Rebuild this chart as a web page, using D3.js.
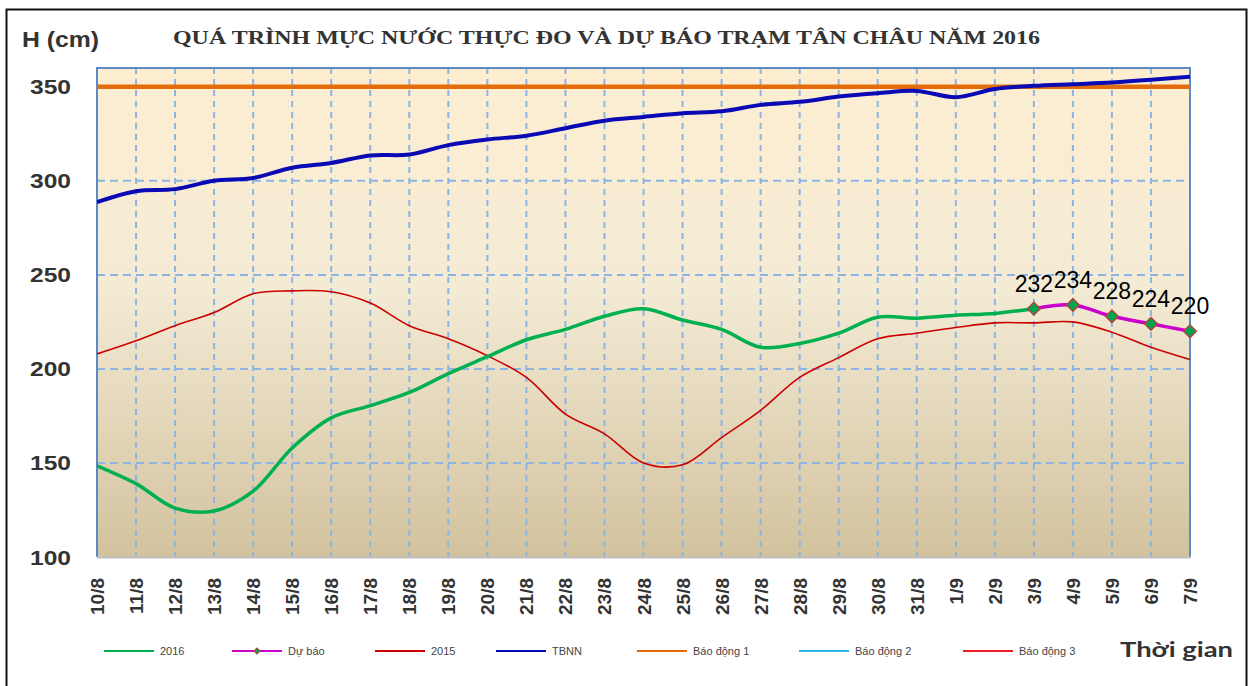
<!DOCTYPE html>
<html>
<head>
<meta charset="utf-8">
<script src="https://cdn.jsdelivr.net/npm/d3@7"></script>
<style>
    body { margin: 0; background: #fff; }
    svg { display: block; }
</style>
</head>
<body>
<svg id="chart" width="1253" height="686"></svg>
<script>
// ---------------------------
// DATA
// ---------------------------
const dates = ["10/8","11/8","12/8","13/8","14/8","15/8","16/8","17/8","18/8","19/8","20/8",
    "21/8","22/8","23/8","24/8","25/8","26/8","27/8","28/8","29/8","30/8","31/8",
    "1/9","2/9","3/9","4/9","5/9","6/9","7/9"];

// measured 2016 (10/8 -> 3/9)
const h2016 = [148.5,139,126,124.5,135,158,174,180.5,187.5,197.5,206.5,215.5,221,228,232,
    226,221,211.5,213.5,219,227.5,227,228.5,229.5,232];

// forecast (3/9 -> 7/9)
const forecastDates = ["3/9","4/9","5/9","6/9","7/9"];
const forecast = [232,234,228,224,220];

const h2015 = [208,215,223,230,240,241.5,241,235,223,216,207,195.5,176,165.5,150,149,163.5,
    178,195.5,206,216,219,222,224.5,224.5,225,219.5,211.5,205];

const tbnn = [288.7,294.5,295.6,300,301.5,307,309.5,313.5,314,319,322,324,328,332,334,336,337,
    340.4,342,344.8,346.6,347.8,344.5,348.8,350.5,351.4,352.3,353.7,355.4];

const alarms = [350, 400, 450];
const yTicks = [100,150,200,250,300,350];

// ---------------------------
// LAYOUT
// ---------------------------
const plotLeft = 97, plotRight = 1190, plotTop = 68, plotBottom = 557;
const colors = {
    h2016: "#00b050", forecast: "#cc00cc", h2015: "#cc0000", tbnn: "#0a0ab4",
    alarm1: "#e46c0a", alarm2: "#2fb5ea", alarm3: "#ee1c25"
};
const alarmColors = [colors.alarm1, colors.alarm2, colors.alarm3];

const svg = d3.select("#chart");

const xScale = d3.scalePoint().domain(dates).range([plotLeft, plotRight]);
const yScale = d3.scaleLinear().domain([100, 360]).range([plotBottom, plotTop]);

// outer frame
svg.append("rect")
    .attr("x", 6.5).attr("y", 9.5)
    .attr("width", 1240).attr("height", 700)
    .attr("fill", "none")
    .attr("stroke", "#111")
    .attr("stroke-width", 2);

// background gradient
const defs = svg.append("defs");
const grad = defs.append("linearGradient")
    .attr("id", "bg").attr("x1", 0).attr("y1", 0).attr("x2", 0).attr("y2", 1);
grad.append("stop").attr("offset", "0%").attr("stop-color", "#fdeed1");
grad.append("stop").attr("offset", "45%").attr("stop-color", "#f4ebd5");
grad.append("stop").attr("offset", "100%").attr("stop-color", "#d2c29e");

defs.append("clipPath").attr("id", "plotClip")
    .append("rect")
    .attr("x", plotLeft).attr("y", plotTop)
    .attr("width", plotRight - plotLeft).attr("height", plotBottom - plotTop);

svg.append("rect")
    .attr("x", plotLeft).attr("y", plotTop)
    .attr("width", plotRight - plotLeft).attr("height", plotBottom - plotTop)
    .attr("fill", "url(#bg)");

// ---------------------------
// GRIDLINES
// ---------------------------
svg.append("g")
    .selectAll("line")
    .data(dates.slice(1, -1))
    .join("line")
    .attr("x1", d => xScale(d)).attr("x2", d => xScale(d))
    .attr("y1", plotTop).attr("y2", plotBottom)
    .attr("stroke", "#8db4e2")
    .attr("stroke-width", 2)
    .attr("stroke-dasharray", "6,5");

svg.append("g")
    .selectAll("line")
    .data(yTicks.slice(1))
    .join("line")
    .attr("x1", plotLeft).attr("x2", plotRight)
    .attr("y1", d => yScale(d)).attr("y2", d => yScale(d))
    .attr("stroke", "#8db4e2")
    .attr("stroke-width", 2)
    .attr("stroke-dasharray", "8,5");

// plot border
svg.append("path")
    .attr("d", `M${plotLeft},${plotBottom}V${plotTop}H${plotRight}V${plotBottom}`)
    .attr("fill", "none")
    .attr("stroke", "#5b8ac6")
    .attr("stroke-width", 2);
svg.append("line")
    .attr("x1", plotLeft).attr("x2", plotRight + 1)
    .attr("y1", plotBottom + 0.5).attr("y2", plotBottom + 0.5)
    .attr("stroke", "#bfbfbf")
    .attr("stroke-width", 2);

// ---------------------------
// SERIES
// ---------------------------
const plot = svg.append("g").attr("clip-path", "url(#plotClip)");

const lineGen = d3.line()
    .x(d => xScale(d.date))
    .y(d => yScale(d.value))
    .curve(d3.curveCatmullRom.alpha(0.5));

const toPoints = (vals, ds) => vals.map((v, i) => ({ date: ds[i], value: v }));

// alarm levels (only the first falls inside the axis range)
plot.selectAll(".alarm")
    .data(alarms)
    .join("line")
    .attr("class", "alarm")
    .attr("x1", plotLeft).attr("x2", plotRight)
    .attr("y1", d => yScale(d)).attr("y2", d => yScale(d))
    .attr("stroke", (d, i) => alarmColors[i])
    .attr("stroke-width", 4.5);

plot.append("path")
    .datum(toPoints(h2015, dates))
    .attr("d", lineGen)
    .attr("fill", "none")
    .attr("stroke", colors.h2015)
    .attr("stroke-width", 1.6);

plot.append("path")
    .datum(toPoints(tbnn, dates))
    .attr("d", lineGen)
    .attr("fill", "none")
    .attr("stroke", colors.tbnn)
    .attr("stroke-width", 4);

plot.append("path")
    .datum(toPoints(h2016, dates))
    .attr("d", lineGen)
    .attr("fill", "none")
    .attr("stroke", colors.h2016)
    .attr("stroke-width", 3.5);

const fcPoints = toPoints(forecast, forecastDates);

svg.append("path")
    .datum(fcPoints)
    .attr("d", lineGen)
    .attr("fill", "none")
    .attr("stroke", colors.forecast)
    .attr("stroke-width", 3.5);

const diamond = d3.symbol().type(d3.symbolSquare).size(80);

svg.append("g")
    .selectAll("path")
    .data(fcPoints)
    .join("path")
    .attr("d", diamond)
    .attr("transform", d => `translate(${xScale(d.date)},${yScale(d.value)}) rotate(45)`)
    .attr("fill", "#00a550")
    .attr("stroke", "#b0463c")
    .attr("stroke-width", 1.5);

svg.append("g")
    .selectAll("text")
    .data(fcPoints)
    .join("text")
    .attr("x", d => xScale(d.date))
    .attr("y", d => yScale(d.value) - 17)
    .attr("text-anchor", "middle")
    .attr("font-family", "Liberation Sans, Arial, sans-serif")
    .attr("font-size", "23px")
    .attr("fill", "#000")
    .text(d => d.value);

// ---------------------------
// AXES TEXT
// ---------------------------
svg.append("g")
    .selectAll("text")
    .data(yTicks)
    .join("text")
    .attr("x", 71)
    .attr("y", d => yScale(d) + 7.5)
    .attr("text-anchor", "end")
    .attr("font-family", "Liberation Sans, Arial, sans-serif")
    .attr("font-weight", "bold")
    .attr("font-size", "20px")
    .attr("fill", "#333")
    .attr("textLength", 41)
    .attr("lengthAdjust", "spacingAndGlyphs")
    .text(d => d);

svg.append("g")
    .selectAll("text")
    .data(dates)
    .join("text")
    .attr("transform", d => `translate(${xScale(d) + 7},578) rotate(-90)`)
    .attr("text-anchor", "end")
    .attr("font-family", "Liberation Sans, Arial, sans-serif")
    .attr("font-weight", "bold")
    .attr("font-size", "19px")
    .attr("fill", "#333")
    .text(d => d);

svg.append("text")
    .attr("x", 22).attr("y", 47)
    .attr("font-family", "Liberation Sans, Arial, sans-serif")
    .attr("font-weight", "bold")
    .attr("font-size", "22px")
    .attr("fill", "#333")
    .attr("textLength", 77)
    .attr("lengthAdjust", "spacingAndGlyphs")
    .text("H (cm)");

svg.append("text")
    .attr("x", 173).attr("y", 44)
    .attr("font-family", "Liberation Serif, Times New Roman, serif")
    .attr("font-weight", "bold")
    .attr("font-size", "19px")
    .attr("fill", "#333")
    .attr("textLength", 867)
    .attr("lengthAdjust", "spacingAndGlyphs")
    .text("QUÁ TRÌNH MỰC NƯỚC THỰC ĐO VÀ DỰ BÁO TRẠM TÂN CHÂU NĂM 2016");

svg.append("text")
    .attr("x", 1120).attr("y", 657)
    .attr("font-family", "Lato, Open Sans, sans-serif")
    .attr("font-weight", "bold")
    .attr("font-size", "21px")
    .attr("fill", "#333")
    .attr("textLength", 113)
    .attr("lengthAdjust", "spacingAndGlyphs")
    .text("Thời gian");

// ---------------------------
// LEGEND
// ---------------------------
const legendItems = [
    { label: "2016", color: colors.h2016, x: 104 },
    { label: "Dự báo", color: colors.forecast, x: 232, marker: true },
    { label: "2015", color: colors.h2015, x: 375 },
    { label: "TBNN", color: colors.tbnn, x: 496 },
    { label: "Báo động 1", color: colors.alarm1, x: 637 },
    { label: "Báo động 2", color: colors.alarm2, x: 799 },
    { label: "Báo động 3", color: colors.alarm3, x: 963 }
];

const legend = svg.append("g")
    .selectAll("g")
    .data(legendItems)
    .join("g")
    .attr("transform", d => `translate(${d.x},651)`);

legend.append("line")
    .attr("x1", 0).attr("x2", 50)
    .attr("stroke", d => d.color)
    .attr("stroke-width", 2.2);

legend.filter(d => d.marker)
    .append("path")
    .attr("d", d3.symbol().type(d3.symbolSquare).size(18))
    .attr("transform", "translate(25,0) rotate(45)")
    .attr("fill", "#00a550")
    .attr("stroke", "#b0463c")
    .attr("stroke-width", 1);

legend.append("text")
    .attr("x", 56).attr("y", 4)
    .attr("font-family", "Liberation Sans, Arial, sans-serif")
    .attr("font-size", "11px")
    .attr("fill", "#444")
    .text(d => d.label);
</script>
</body>
</html>
